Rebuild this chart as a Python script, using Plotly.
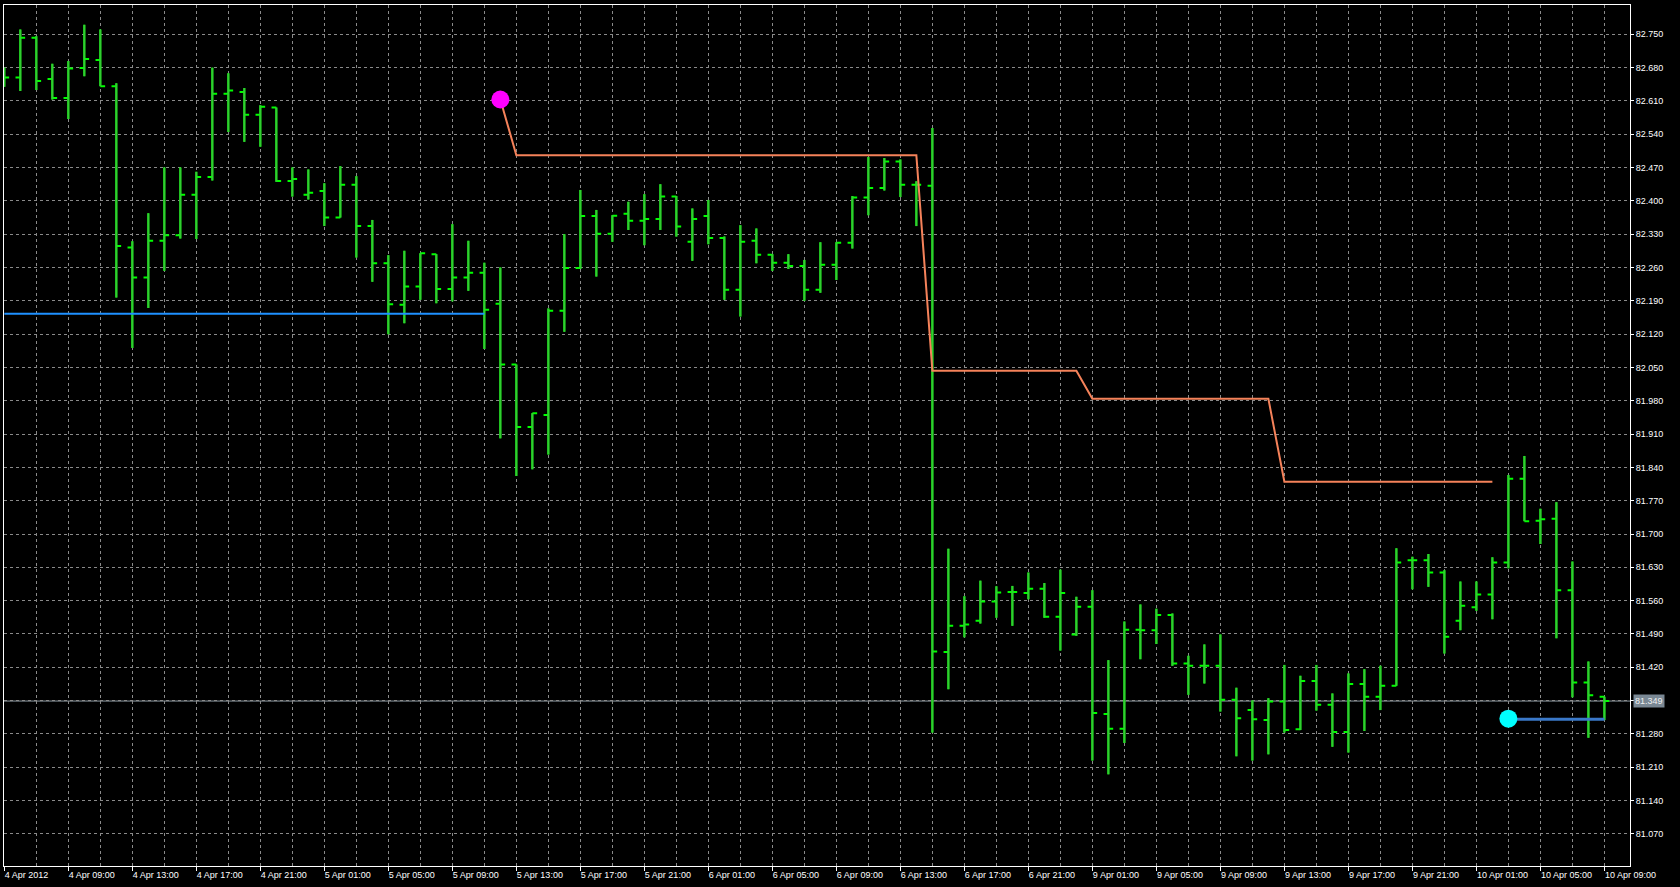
import plotly.graph_objects as go

# ---------------- data (H1 bars, 4 Apr 2012 05:00 -> 10 Apr 2012 09:00) ----------------
opens = [82.660, 82.659, 82.743, 82.656, 82.616, 82.679, 82.696, 82.641, 82.302, 82.239,
         82.316, 82.328, 82.413, 82.450, 82.625, 82.629, 82.581, 82.596, 82.442, 82.413,
         82.421, 82.365, 82.434, 82.347, 82.269, 82.182, 82.220, 82.288, 82.215, 82.239,
         82.249, 82.184, 82.056, 81.925, 81.950, 82.169, 82.259, 82.368, 82.331, 82.373,
         82.358, 82.362, 82.409, 82.314, 82.368, 82.322, 82.213, 82.316, 82.287, 82.270,
         82.263, 82.213, 82.266, 82.312, 82.407, 82.427, 82.483, 82.434, 82.432, 81.452,
         81.507, 81.518, 81.558, 81.578, 81.576, 81.585, 81.526, 81.489, 81.547, 81.322,
         81.291, 81.499, 81.498, 81.530, 81.428, 81.423, 81.423, 81.352, 81.330, 81.309,
         81.348, 81.290, 81.391, 81.341, 81.284, 81.385, 81.358, 81.381, 81.645, 81.645,
         81.619, 81.518, 81.546, 81.573, 81.640, 81.816, 81.728, 81.732, 81.582, 81.388,
         81.358]
highs = [82.680, 82.760, 82.746, 82.688, 82.694, 82.770, 82.760, 82.647, 82.315, 82.374,
         82.470, 82.470, 82.461, 82.680, 82.668, 82.637, 82.601, 82.596, 82.470, 82.466,
         82.437, 82.473, 82.452, 82.360, 82.286, 82.295, 82.290, 82.288, 82.351, 82.316,
         82.270, 82.260, 82.056, 81.954, 82.174, 82.330, 82.423, 82.381, 82.370, 82.398,
         82.414, 82.435, 82.410, 82.384, 82.402, 82.325, 82.349, 82.342, 82.288, 82.288,
         82.276, 82.313, 82.313, 82.410, 82.492, 82.490, 82.487, 82.441, 82.553, 81.669,
         81.569, 81.602, 81.590, 81.591, 81.619, 81.597, 81.625, 81.568, 81.582, 81.435,
         81.516, 81.552, 81.543, 81.533, 81.444, 81.468, 81.489, 81.377, 81.350, 81.355,
         81.425, 81.402, 81.425, 81.365, 81.407, 81.416, 81.423, 81.670, 81.652, 81.658,
         81.624, 81.600, 81.600, 81.651, 81.824, 81.864, 81.753, 81.767, 81.642, 81.432,
         81.358]
lows = [82.640, 82.631, 82.633, 82.613, 82.572, 82.662, 82.641, 82.197, 82.091, 82.175,
        82.253, 82.321, 82.320, 82.443, 82.545, 82.524, 82.514, 82.440, 82.409, 82.403,
        82.347, 82.365, 82.281, 82.230, 82.120, 82.143, 82.192, 82.185, 82.189, 82.211,
        82.089, 81.901, 81.822, 81.836, 81.867, 82.125, 82.257, 82.241, 82.314, 82.339,
        82.307, 82.339, 82.325, 82.274, 82.309, 82.192, 82.157, 82.269, 82.253, 82.257,
        82.190, 82.207, 82.234, 82.300, 82.370, 82.422, 82.408, 82.347, 81.283, 81.374,
        81.483, 81.512, 81.524, 81.507, 81.563, 81.524, 81.455, 81.486, 81.224, 81.195,
        81.261, 81.437, 81.469, 81.423, 81.362, 81.386, 81.327, 81.233, 81.224, 81.237,
        81.283, 81.288, 81.329, 81.253, 81.241, 81.286, 81.330, 81.381, 81.584, 81.589,
        81.449, 81.498, 81.539, 81.521, 81.628, 81.727, 81.679, 81.481, 81.357, 81.272,
        81.309]
closes = [82.659, 82.743, 82.652, 82.616, 82.678, 82.698, 82.641, 82.305, 82.239, 82.316,
          82.328, 82.413, 82.450, 82.625, 82.632, 82.581, 82.598, 82.442, 82.446, 82.417,
          82.365, 82.434, 82.347, 82.269, 82.183, 82.220, 82.290, 82.215, 82.239, 82.249,
          82.171, 82.056, 81.925, 81.954, 82.169, 82.259, 82.368, 82.331, 82.369, 82.358,
          82.362, 82.409, 82.346, 82.362, 82.322, 82.213, 82.314, 82.287, 82.270, 82.263,
          82.213, 82.266, 82.312, 82.407, 82.427, 82.483, 82.434, 82.434, 81.453, 81.507,
          81.510, 81.558, 81.577, 81.578, 81.585, 81.526, 81.576, 81.547, 81.324, 81.291,
          81.499, 81.498, 81.530, 81.428, 81.423, 81.423, 81.352, 81.313, 81.311, 81.348,
          81.288, 81.391, 81.341, 81.284, 81.385, 81.358, 81.381, 81.640, 81.645, 81.619,
          81.484, 81.549, 81.573, 81.640, 81.816, 81.727, 81.731, 81.582, 81.388, 81.361,
          81.349]

time_labels = ["4 Apr 2012", "4 Apr 09:00", "4 Apr 13:00", "4 Apr 17:00", "4 Apr 21:00",
               "5 Apr 01:00", "5 Apr 05:00", "5 Apr 09:00", "5 Apr 13:00", "5 Apr 17:00",
               "5 Apr 21:00", "6 Apr 01:00", "6 Apr 05:00", "6 Apr 09:00", "6 Apr 13:00",
               "6 Apr 17:00", "6 Apr 21:00", "9 Apr 01:00", "9 Apr 05:00", "9 Apr 09:00",
               "9 Apr 13:00", "9 Apr 17:00", "9 Apr 21:00", "10 Apr 01:00", "10 Apr 05:00",
               "10 Apr 09:00"]
label_step = 4  # bars between time labels
grid_step = 2   # bars between vertical grid lines

price_grid = [81.070, 81.140, 81.210, 81.280, 81.350, 81.420, 81.490, 81.560, 81.630, 81.700,
              81.770, 81.840, 81.910, 81.980, 82.050, 82.120, 82.190, 82.260, 82.330,
              82.400, 82.470, 82.540, 82.610, 82.680, 82.750]
hidden_price_label = 81.350  # covered by the bid price box

# step line (indicator) vertices: bar index, price
zz_bars = [31, 32, 57, 58, 67, 68, 79, 80, 93]
zz_prices = [82.613, 82.496, 82.496, 82.043, 82.043, 81.984, 81.984, 81.810, 81.810]

# horizontal level lines
upper_level_bars = [0, 30]
upper_level = 82.163
lower_level_bars = [94, 100]
lower_level = 81.311

magenta_point = (31, 82.613)
cyan_point = (94, 81.312)
bid_price = 81.349

# ---------------- figure ----------------
n = len(opens)
xs = list(range(n))

GREEN_TICK = "#00FF00"
GREEN_BAR = "#32CD32"
GRID = "#8A8A8A"
FONT = dict(family="Liberation Sans", size=9, color="#FFFFFF")

fig = go.Figure()

fig.add_trace(go.Ohlc(
    x=xs, open=opens, high=highs, low=lows, close=closes,
    increasing=dict(line=dict(color=GREEN_TICK, width=2)),
    decreasing=dict(line=dict(color=GREEN_TICK, width=2)),
    tickwidth=0.3, hoverinfo="skip", showlegend=False,
))

# vertical high-low strokes in a slightly darker green
vx, vy = [], []
for i in xs:
    vx += [i, i, None]
    vy += [lows[i], highs[i], None]
fig.add_trace(go.Scatter(x=vx, y=vy, mode="lines",
                         line=dict(color=GREEN_BAR, width=2),
                         hoverinfo="skip", showlegend=False))

fig.add_trace(go.Scatter(x=upper_level_bars, y=[upper_level] * 2, mode="lines",
                         line=dict(color="#1E90FF", width=2),
                         hoverinfo="skip", showlegend=False))

fig.add_trace(go.Scatter(x=zz_bars, y=zz_prices, mode="lines",
                         line=dict(color="#F5825A", width=2),
                         hoverinfo="skip", showlegend=False))

fig.add_trace(go.Scatter(x=lower_level_bars, y=[lower_level] * 2, mode="lines",
                         line=dict(color="#3A78C8", width=3),
                         hoverinfo="skip", showlegend=False))

fig.add_trace(go.Scatter(x=[magenta_point[0]], y=[magenta_point[1]], mode="markers",
                         marker=dict(color="#FF00FF", size=18),
                         hoverinfo="skip", showlegend=False))
fig.add_trace(go.Scatter(x=[cyan_point[0]], y=[cyan_point[1]], mode="markers",
                         marker=dict(color="#00FFFF", size=18),
                         hoverinfo="skip", showlegend=False))

# invisible helper trace so the tick-mark overlay axis is drawn
fig.add_trace(go.Scatter(x=[xs[0]], y=[bid_price], xaxis="x2", mode="markers",
                         marker=dict(opacity=0), hoverinfo="skip", showlegend=False))

# bid price line + label
fig.add_shape(type="line", xref="paper", x0=0, x1=1, yref="y", y0=bid_price, y1=bid_price,
              line=dict(color="#8C99A3", width=1), layer="below")
fig.add_annotation(xref="paper", x=1, xanchor="left", xshift=3, yref="y", y=bid_price,
                   text=f"{bid_price:.3f}", showarrow=False,
                   font=dict(family="Liberation Sans", size=9, color="#F0F0F0"),
                   bgcolor="#7A8894", borderpad=1)

grid_vals = list(range(0, n, grid_step))
label_vals = list(range(0, n, label_step))
grid_text = []
for v in grid_vals:
    if v % label_step == 0:
        grid_text.append(time_labels[v // label_step])
    else:
        grid_text.append("")

x_range = [-0.02, 101.6]

fig.update_layout(
    width=1680, height=887,
    margin=dict(l=4, r=50, t=5, b=21),
    paper_bgcolor="#000000", plot_bgcolor="#000000",
    font=FONT,
    showlegend=False,
    xaxis=dict(
        range=x_range,
        rangeslider=dict(visible=False),
        tickmode="array", tickvals=grid_vals, ticktext=grid_text,
        ticklabelposition="outside right",
        ticks="",
        showgrid=True, gridcolor=GRID, griddash="3px,3px", gridwidth=1,
        showline=True, linecolor="#FFFFFF", linewidth=1, mirror=True,
        zeroline=False, fixedrange=True,
    ),
    xaxis2=dict(
        overlaying="x", anchor="y", side="bottom",
        range=x_range,
        tickmode="array", tickvals=label_vals,
        ticks="outside", ticklen=4, tickcolor="#FFFFFF",
        showticklabels=False, showgrid=False, showline=False,
        zeroline=False, fixedrange=True,
    ),
    yaxis=dict(
        side="right",
        range=[81.0024, 82.8116],
        tickmode="array", tickvals=price_grid,
        ticktext=["" if abs(v - hidden_price_label) < 1e-9 else f"{v:.3f}" for v in price_grid],
        ticks="outside", ticklen=3, tickcolor="#FFFFFF",
        showgrid=True, gridcolor=GRID, griddash="3px,3px", gridwidth=1,
        showline=True, linecolor="#FFFFFF", linewidth=1, mirror=True,
        zeroline=False, fixedrange=True,
    ),
)

fig.write_html("out.html", config={"displayModeBar": False},
               post_script="document.body.style.margin='0';")
